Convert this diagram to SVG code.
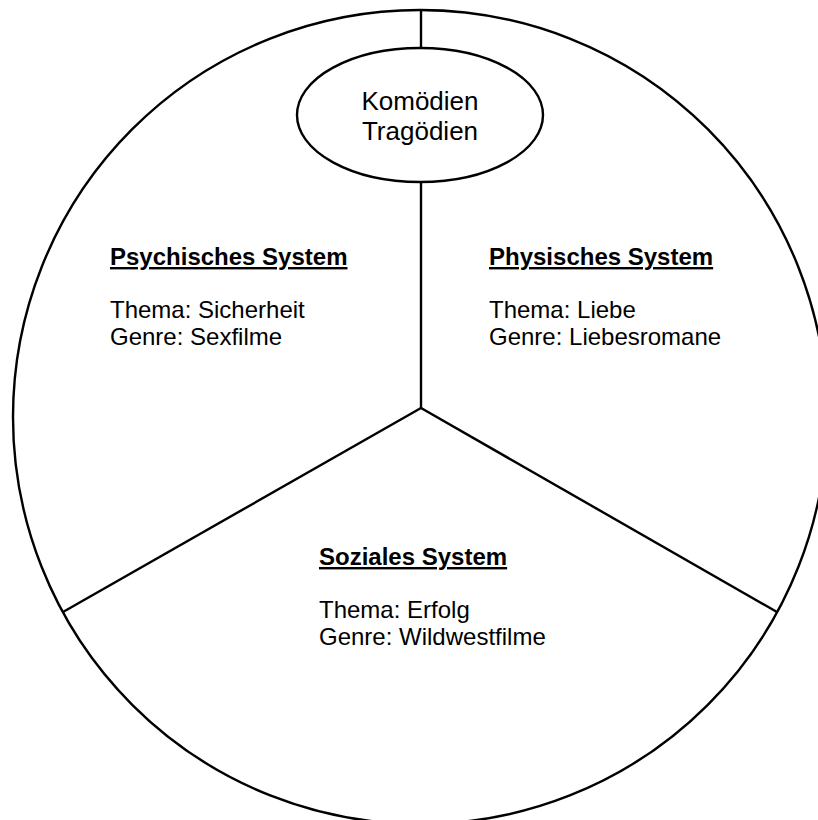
<svg xmlns="http://www.w3.org/2000/svg" width="818" height="820" viewBox="0 0 818 820">
<style>
.ln{stroke:#000;stroke-width:2.4;fill:none}
.t{font-family:"Liberation Sans",Arial,sans-serif;font-size:24px;fill:#000}
.c{font-size:26px}
.h{font-weight:bold;text-decoration:underline}
</style>
<rect width="818" height="820" fill="#fff"/>
<g id="outer">
<circle class="ln" cx="420" cy="417" r="407"/>
</g>
<g id="connectors">
<line class="ln" x1="421" y1="10" x2="421" y2="48"/>
<line class="ln" x1="421" y1="182" x2="421" y2="408"/>
<line class="ln" x1="421" y1="408" x2="63" y2="612"/>
<line class="ln" x1="421" y1="408" x2="777" y2="612"/>
</g>
<g id="center">
<ellipse class="ln" cx="420" cy="115" rx="123" ry="67"/>
<text class="t c" x="420" y="110" text-anchor="middle">Komödien</text>
<text class="t c" x="420" y="140" text-anchor="middle">Tragödien</text>
</g>
<g id="psychisch">
<text class="t h" x="110" y="265">Psychisches System</text>
<text class="t" x="110" y="318">Thema: Sicherheit</text>
<text class="t" x="110" y="345">Genre: Sexfilme</text>
</g>
<g id="physisch">
<text class="t h" x="489" y="265">Physisches System</text>
<text class="t" x="489" y="318">Thema: Liebe</text>
<text class="t" x="489" y="345">Genre: Liebesromane</text>
</g>
<g id="sozial">
<text class="t h" x="319" y="565">Soziales System</text>
<text class="t" x="319" y="618">Thema: Erfolg</text>
<text class="t" x="319" y="645">Genre: Wildwestfilme</text>
</g>
</svg>
